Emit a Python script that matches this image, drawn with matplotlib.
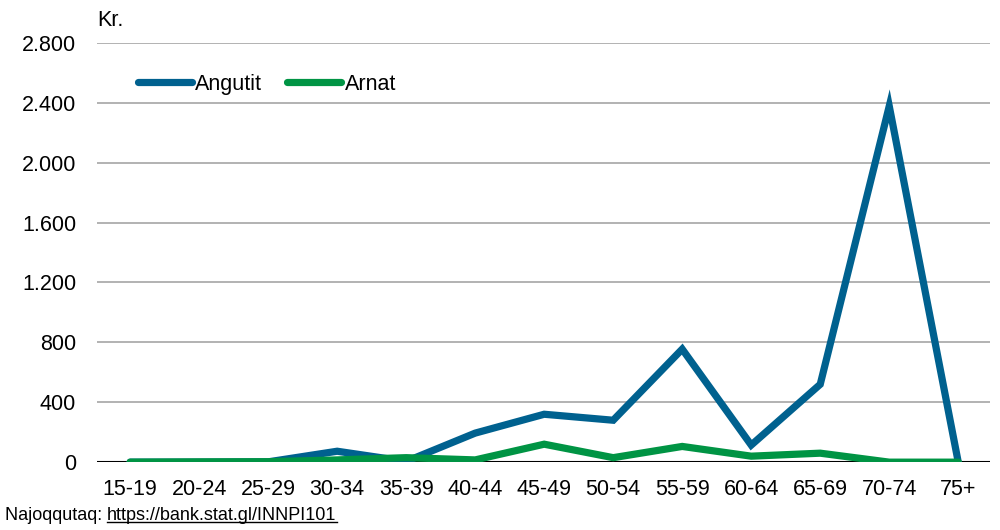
import matplotlib
matplotlib.use("Agg")
import matplotlib.pyplot as plt
from matplotlib.lines import Line2D

categories = ["15-19", "20-24", "25-29", "30-34", "35-39", "40-44", "45-49",
              "50-54", "55-59", "60-64", "65-69", "70-74", "75+"]
angutit = [0, 0, 2, 73, 5, 194, 320, 280, 755, 114, 520, 2378, 0]
arnat = [0, 2, 3, 15, 30, 15, 120, 30, 105, 40, 60, 0, 0]
yticks = [0, 400, 800, 1200, 1600, 2000, 2400, 2800]
ytick_labels = ["0", "400", "800", "1.200", "1.600", "2.000", "2.400", "2.800"]

plt.rcParams['font.family'] = ['Liberation Sans', 'DejaVu Sans']

fig = plt.figure(figsize=(10, 5.3), dpi=100)
ax = fig.add_axes([0.097, 0.128, 0.893, 0.791])

x = list(range(len(categories)))
blue = "#00618f"
green = "#009444"
lw = 5.2
ax.plot(x, angutit, color=blue, lw=lw, solid_capstyle="round", solid_joinstyle="miter", label="Angutit", zorder=3)
ax.plot(x, arnat, color=green, lw=lw, solid_capstyle="round", solid_joinstyle="miter", label="Arnat", zorder=4)

fs = 15.5
ax.set_xlim(-0.48, 12.46)
ax.set_ylim(0, 2800)
ax.set_yticks(yticks)
ax.set_yticklabels(ytick_labels)
ax.set_xticks(x)
ax.set_xticklabels(categories)
ax.tick_params(axis="both", length=0, labelsize=fs, colors="black")
ax.tick_params(axis="y", pad=15)
ax.tick_params(axis="x", pad=12)
for v in yticks[1:]:
    ax.axhline(v, color="#a6a6a6", lw=1.2, zorder=1)
ax.axhline(0, color="black", lw=1.5, zorder=2)
for s in ax.spines.values():
    s.set_visible(False)

handles = [Line2D([0], [0], color=blue, lw=lw, solid_capstyle="round"),
           Line2D([0], [0], color=green, lw=lw, solid_capstyle="round")]
leg = ax.legend(handles, ["Angutit", "Arnat"], loc="upper left", bbox_to_anchor=(0.0365, 0.947),
                ncol=2, frameon=False, fontsize=fs, handlelength=2.5, handletextpad=0.15,
                columnspacing=1.17, borderaxespad=0)

fig.text(0.097, 0.962, "Kr.", fontsize=fs, ha="left", va="center")

sfs = 13
t1 = fig.text(0.005, 0.012, "Najoqqutaq: ", fontsize=sfs, ha="left", va="bottom")
fig.canvas.draw()
r = fig.canvas.get_renderer()
bb = t1.get_window_extent(r)
x2 = bb.x1 / fig.bbox.width
t2 = fig.text(x2, 0.012, "https://bank.stat.gl/INNPI101", fontsize=sfs, ha="left", va="bottom")
bb2 = t2.get_window_extent(r)
uy = (bb2.y0 + 2) / fig.bbox.height
fig.add_artist(Line2D([bb2.x0 / fig.bbox.width, bb2.x1 / fig.bbox.width], [uy, uy],
                      transform=fig.transFigure, color="black", lw=1.0))

fig.savefig("out.png", dpi=100)
